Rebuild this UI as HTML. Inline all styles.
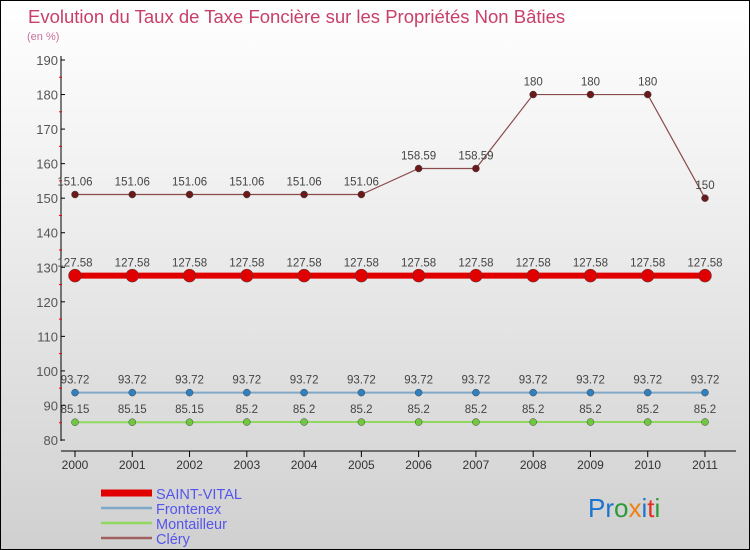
<!DOCTYPE html>
<html><head><meta charset="utf-8"><style>
body{margin:0;}
#c{width:748px;height:548px;border:1px solid #000;background:linear-gradient(#fff,#f2f2f2 30%,#d0d0d0);position:relative;overflow:hidden;font-family:"Liberation Sans",sans-serif;}
svg text{font-family:"Liberation Sans",sans-serif;}
</style></head><body>
<div id="c">
<svg id="s" width="748" height="548">
<text x="27" y="22" font-size="18.5" fill="#c8406a">Evolution du Taux de Taxe Foncière sur les Propriétés Non Bâties</text>
<text x="26" y="39" font-size="11" fill="#c8709a">(en %)</text>
<text x="587" y="516" font-size="26"><tspan fill="#1a74d0">Pr</tspan><tspan fill="#2a9a3a">o</tspan><tspan fill="#f08010">x</tspan><tspan fill="#1a74d0">i</tspan><tspan fill="#e03020">t</tspan><tspan fill="#2a9a3a">i</tspan></text>
</svg>
</div>
<script>
const years=[2000,2001,2002,2003,2004,2005,2006,2007,2008,2009,2010,2011];
const yTicks=[80,90,100,110,120,130,140,150,160,170,180,190];
const saintVital=[127.58,127.58,127.58,127.58,127.58,127.58,127.58,127.58,127.58,127.58,127.58,127.58];
const frontenex=[93.72,93.72,93.72,93.72,93.72,93.72,93.72,93.72,93.72,93.72,93.72,93.72];
const montailleur=[85.15,85.15,85.15,85.2,85.2,85.2,85.2,85.2,85.2,85.2,85.2,85.2];
const clery=[151.06,151.06,151.06,151.06,151.06,151.06,158.59,158.59,180,180,180,150];
const seriesNames=["SAINT-VITAL","Frontenex","Montailleur","Cléry"];
const svg=document.getElementById('s');const NS='http://www.w3.org/2000/svg';
const X=i=>74+i*(630/11);const Y=v=>59+(190-v)*(380/110);
function mk(t,a,p){const e=document.createElementNS(NS,t);for(const k in a)e.setAttribute(k,a[k]);(p||svg).appendChild(e);return e;}
let ax=mk('line',{x1:60,y1:55,x2:60,y2:440,stroke:'#000'});


let bx=mk('line',{x1:60,y1:450,x2:735,y2:450,stroke:'#000'});


yTicks.forEach((v,i)=>{mk('line',{x1:60,y1:Y(v),x2:64,y2:Y(v),stroke:'#000'});
if(i<yTicks.length-1)mk('line',{x1:58,y1:Y(v+5),x2:61,y2:Y(v+5),stroke:'#e00'});
const t=mk('text',{x:57,y:Y(v)+5,'font-size':13,fill:'#555','text-anchor':'end'});t.textContent=v;

});
years.forEach((y,i)=>{mk('line',{x1:X(i),y1:450,x2:X(i),y2:456,stroke:'#000'});
const t=mk('text',{x:X(i),y:468,'font-size':12,fill:'#333','text-anchor':'middle'});t.textContent=y;

});
function series(d,color,w,r,dot,name){
const g=mk('g',{});


mk('polyline',{points:d.map((v,i)=>X(i)+','+Y(v)).join(' '),fill:'none',stroke:color,'stroke-width':w},g);
d.forEach((v,i)=>{const c=mk('circle',{cx:X(i),cy:Y(v),r:r,fill:dot,stroke:'#444','stroke-width':0.5},g);


const t=mk('text',{x:X(i),y:Y(v)-9,'font-size':11.5,fill:'#444','text-anchor':'middle'},g);t.textContent=v;});}
series(clery,'#8a4a4a',1.2,3.5,'#6a1a1a','series-clery');
series(saintVital,'#e00000',6,6.5,'#e00000','series-saint-vital');
series(frontenex,'#80a8c8',2,3.5,'#3080c0','series-frontenex');
series(montailleur,'#90d860',2,3.5,'#70c840','series-montailleur');
const lc=['#e00000','#80a8c8','#90d860','#a06060'],lw=[7,2.5,2.5,2.5];
seriesNames.forEach((n,i)=>{const g=mk('g',{});


const y=492+i*15;mk('line',{x1:100,y1:y,x2:151,y2:y,stroke:lc[i],'stroke-width':lw[i]},g);
const t=mk('text',{x:155,y:y+6,'font-size':14.5,fill:'#5555ee'},g);t.textContent=n;});
</script>
</body></html>
